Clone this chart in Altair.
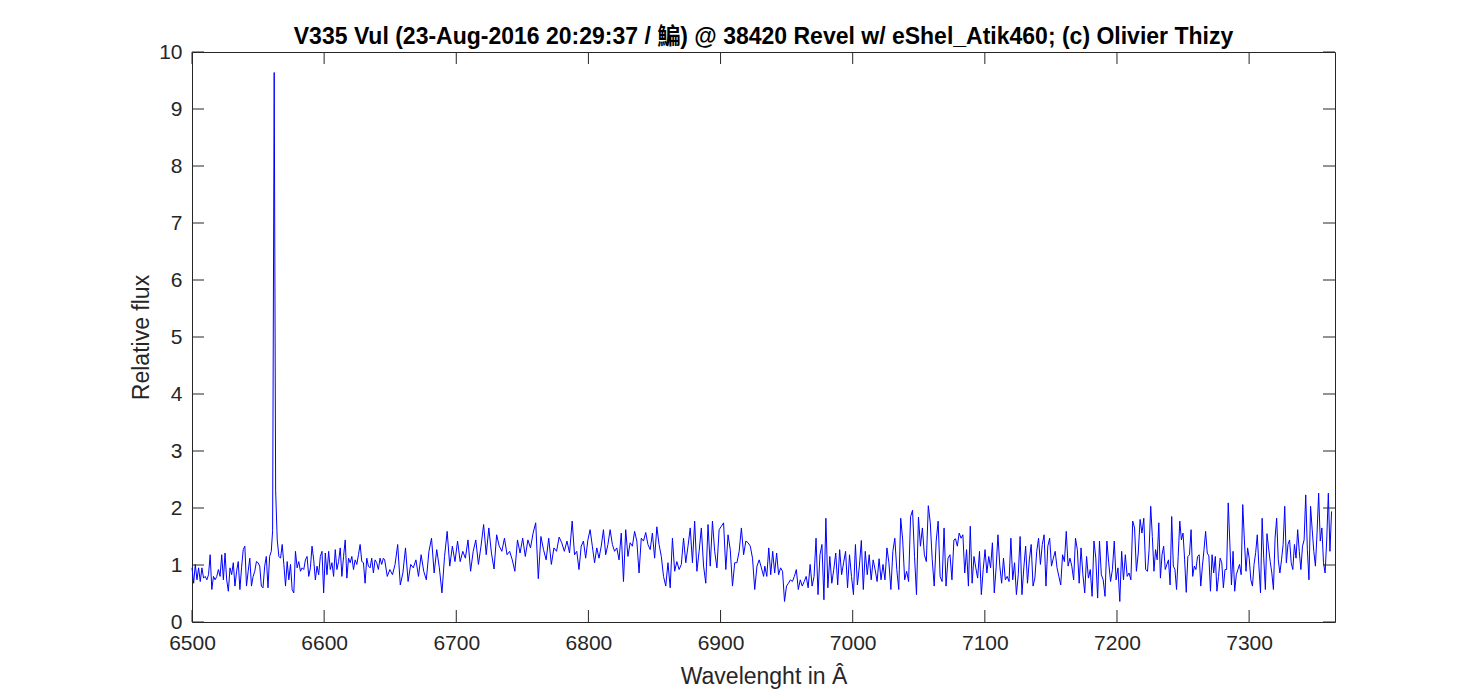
import numpy as np
import pandas as pd
import altair as alt

# spectrum, segment by segment (start, end wavelength in Angstrom)
seg1_range = (6500.0, 6560.0)
seg1_flux = [0.95, 0.68, 1.01, 0.74, 0.95, 0.71, 0.95, 0.77, 0.80, 0.74, 0.83, 1.18, 0.57, 0.80, 0.74, 0.80,
             0.92, 0.80, 1.18, 0.74, 1.21, 0.74, 0.54, 0.95, 0.83, 1.04, 0.63, 0.89, 1.06, 0.57, 0.95, 1.27,
             1.33, 0.63, 0.89, 1.12, 0.63, 0.80, 0.89, 1.06, 1.04, 0.98, 0.63, 0.60, 0.98, 1.15, 0.60, 1.15, 1.24]

# H-alpha emission line
peak_wl = [6561.0, 6562.2, 6563.3]
peak_flux = [1.6, 9.64, 2.3]

seg2_range = (6564.5, 6644.8)
seg2_flux = [1.44, 1.15, 1.12, 1.36, 1.01, 0.63, 1.06, 0.74, 1.01, 0.57, 0.51, 1.24, 0.95, 1.06, 0.89, 0.95,
             0.92, 1.09, 1.15, 0.80, 0.95, 1.33, 1.09, 0.74, 0.98, 0.83, 1.15, 1.24, 0.51, 1.21, 0.83, 1.24,
             0.92, 1.04, 0.80, 1.27, 0.92, 1.06, 1.30, 0.80, 1.15, 1.44, 0.77, 1.12, 1.04, 1.15, 0.92, 1.09,
             1.01, 1.18, 1.36, 1.06, 1.04, 0.68, 1.12, 0.98, 0.95, 1.12, 0.86, 1.09, 1.04, 0.92, 1.12, 1.01, 1.12]

seg3_range = (6645.8, 6787.7)
seg3_flux = [1.09, 0.80, 0.92, 0.83, 1.01, 1.36, 0.65, 0.86, 1.30, 0.71, 1.01, 0.95, 1.09, 0.80, 1.18, 0.89,
             0.74, 1.24, 1.47, 0.86, 1.27, 0.95, 0.51, 1.15, 1.59, 0.98, 1.33, 1.06, 1.42, 1.06, 1.24, 1.12,
             1.44, 0.89, 1.24, 1.44, 1.01, 1.33, 1.71, 1.18, 1.65, 1.21, 0.93, 1.53, 1.33, 1.24, 1.47, 1.18,
             1.24, 1.09, 0.89, 1.44, 1.21, 1.47, 1.15, 1.44, 1.30, 1.56, 1.74, 0.76, 1.50, 1.27, 1.09, 1.47,
             1.01, 1.30, 1.24, 1.49, 1.39, 1.24, 1.42, 1.21, 1.77]

seg4_range = (6789.5, 6932.6)
seg4_flux = [1.18, 1.24, 0.92, 1.33, 1.42, 1.12, 1.44, 1.62, 1.33, 1.04, 1.30, 1.12, 1.33, 1.62, 1.18, 1.36,
             1.62, 1.36, 1.24, 1.30, 1.09, 1.56, 0.71, 1.62, 1.15, 1.39, 1.33, 1.59, 1.42, 0.86, 1.47, 1.42,
             1.57, 1.36, 1.27, 1.56, 1.12, 1.67, 1.36, 1.15, 0.80, 0.63, 1.04, 0.60, 1.47, 0.89, 1.06, 0.92,
             1.01, 1.47, 1.04, 1.33, 1.65, 1.04, 1.77, 0.89, 1.24, 1.65, 0.98, 0.68, 1.71, 0.98, 1.77, 1.24,
             0.95, 1.62, 1.68, 1.74, 0.92, 1.53, 1.27, 0.63, 1.04, 1.04, 1.24, 1.65, 1.18, 1.42, 1.39, 1.33,
             1.12, 0.57, 0.98, 1.09, 0.95, 0.80]

seg5_range = (6933.5, 7076.6)
seg5_flux = [0.98, 0.80, 1.30, 0.83, 1.24, 0.86, 1.21, 0.83, 0.95, 0.89, 0.36, 0.63, 0.68, 0.74, 0.71, 0.80,
             0.92, 0.57, 0.74, 0.63, 0.71, 0.80, 0.60, 1.01, 0.63, 0.80, 1.47, 0.48, 1.18, 1.36, 0.39, 1.82,
             0.60, 1.15, 0.68, 0.92, 1.21, 0.65, 1.27, 0.83, 1.04, 1.24, 0.60, 1.18, 0.80, 0.48, 1.36, 0.65,
             0.98, 1.43, 0.57, 1.24, 0.83, 1.18, 0.74, 1.09, 0.92, 0.71, 1.11, 0.74, 1.01, 0.74, 1.30, 1.04,
             0.57, 1.24, 1.47, 0.92, 0.57, 1.82, 1.44, 0.74, 0.89, 0.71, 1.85, 1.96, 1.15, 0.48, 1.84, 1.33,
             1.65, 1.18, 1.06, 2.04, 1.74, 1.09, 0.63, 1.42, 1.77, 0.80, 0.71, 1.65, 0.63, 1.12, 1.18, 0.74, 1.44]

seg6_range = (7077.8, 7221.7)
seg6_flux = [1.46, 1.33, 1.56, 1.47, 1.53, 0.86, 1.27, 0.63, 1.68, 0.68, 1.15, 0.95, 0.77, 1.24, 0.48, 0.92,
             1.27, 0.86, 1.15, 0.95, 1.39, 0.51, 0.95, 1.53, 0.98, 0.68, 1.12, 0.74, 0.80, 0.71, 1.47, 0.74,
             1.04, 0.48, 0.83, 1.50, 0.48, 0.95, 1.33, 0.68, 1.09, 1.36, 0.63, 0.77, 1.24, 1.47, 1.01, 1.36,
             1.53, 0.63, 1.33, 1.47, 0.98, 1.12, 1.24, 0.95, 0.80, 0.65, 1.18, 1.06, 1.59, 0.98, 1.12, 0.98,
             0.74, 1.47, 1.27, 0.68, 1.30, 0.83, 0.51, 1.15, 0.77, 0.92, 0.45, 1.42, 1.12, 0.42, 1.42, 0.83,
             0.74, 0.45, 1.42, 1.04, 0.71, 0.92, 1.42, 0.74, 0.95, 0.36, 1.24, 0.74, 1.18, 0.80, 0.86, 0.74,
             1.77, 1.65, 0.89, 1.21, 1.80, 1.56, 1.82, 0.92]

seg7_range = (7223.1, 7362.4)
seg7_flux = [0.89, 1.27, 2.03, 1.50, 0.89, 1.27, 1.09, 1.74, 0.77, 1.18, 1.33, 0.92, 1.01, 1.09, 0.65, 1.85,
             0.98, 0.92, 0.57, 1.15, 1.77, 1.44, 1.56, 1.09, 0.52, 1.15, 1.18, 1.62, 0.80, 0.98, 0.92, 1.15,
             1.18, 0.63, 0.98, 1.27, 1.59, 1.21, 1.16, 0.54, 1.18, 0.86, 1.15, 0.54, 0.80, 1.12, 1.04, 0.60,
             0.92, 0.92, 2.09, 1.39, 0.65, 1.24, 0.54, 0.83, 0.92, 1.01, 0.83, 2.06, 1.44, 0.89, 1.30, 1.12,
             0.74, 0.63, 1.01, 1.22, 1.53, 0.98, 0.51, 1.82, 1.12, 0.57, 1.55, 1.30, 1.06, 0.86, 0.57, 1.47,
             1.82, 1.09, 0.86, 1.09, 1.36, 2.03, 1.04, 1.36, 1.44, 1.04, 0.92, 1.36, 1.12, 1.62, 1.24, 0.92,
             1.33, 1.44, 2.23, 1.27, 0.74, 2.03, 1.62, 1.24, 0.98, 1.56, 2.26, 1.42, 1.65, 1.04, 0.86, 1.44,
             2.26, 1.24, 1.94]

x_ticks = [6500, 6600, 6700, 6800, 6900, 7000, 7100, 7200, 7300]
y_ticks = [0, 1, 2, 3, 4, 5, 6, 7, 8, 9, 10]

title_text = "V335 Vul (23-Aug-2016 20:29:37 / 鯿) @ 38420 Revel w/ eShel_Atik460; (c) Olivier Thizy"

# assemble the spectrum table
segments = [
    (seg1_range, seg1_flux), (None, None),
    (seg2_range, seg2_flux), (seg3_range, seg3_flux), (seg4_range, seg4_flux),
    (seg5_range, seg5_flux), (seg6_range, seg6_flux), (seg7_range, seg7_flux),
]
wl, fx = [], []
for rng, flux in segments:
    if rng is None:
        wl += peak_wl
        fx += peak_flux
        continue
    wl += list(np.linspace(rng[0], rng[1], len(flux)))
    fx += flux
spec = pd.DataFrame({"wl": wl, "flux": fx})

W, H = 1143, 570
TICK = 12
FONT = "Liberation Sans, Arial, Helvetica, Noto Sans CJK TC, sans-serif"
INK = "#262626"

xscale = alt.Scale(domain=[6500, 7365], nice=False, zero=False)
yscale = alt.Scale(domain=[0, 10], nice=False)

line = alt.Chart(spec).mark_line(color="#0000FF", strokeWidth=1).encode(
    x=alt.X("wl:Q", scale=xscale,
            axis=alt.Axis(title="Wavelenght in Â", values=x_ticks, format="d", labelFlush=False,
                          titleY=54, titleBaseline="middle")),
    y=alt.Y("flux:Q", scale=yscale,
            axis=alt.Axis(title="Relative flux", values=y_ticks, format="d", labelFlush=False,
                          titleX=-51, titleY=H / 2, titleBaseline="middle", titleAlign="center")),
)

xt = pd.DataFrame({"v": x_ticks})
yt = pd.DataFrame({"v": y_ticks})

# MATLAB style inward ticks on all four sides
tick_bottom = alt.Chart(xt).mark_rule(color=INK, strokeWidth=1).encode(
    x=alt.X("v:Q", scale=xscale), y=alt.value(H), y2=alt.value(H - TICK))
tick_top = alt.Chart(xt).mark_rule(color=INK, strokeWidth=1).encode(
    x=alt.X("v:Q", scale=xscale), y=alt.value(0), y2=alt.value(TICK))
tick_left = alt.Chart(yt).mark_rule(color=INK, strokeWidth=1).encode(
    y=alt.Y("v:Q", scale=yscale), x=alt.value(0), x2=alt.value(TICK))
tick_right = alt.Chart(yt).mark_rule(color=INK, strokeWidth=1).encode(
    y=alt.Y("v:Q", scale=yscale), x=alt.value(W - TICK), x2=alt.value(W))

chart = alt.layer(line, tick_bottom, tick_top, tick_left, tick_right).properties(
    width=W, height=H,
    autosize=alt.AutoSizeParams(type="none"),
    padding={"left": 184, "top": 44, "right": 130, "bottom": 68},
    title=alt.TitleParams(title_text, font=FONT, fontSize=23, fontWeight="bold",
                          color="#000000", anchor="middle", offset=-8),
).configure_view(
    stroke=INK, strokeWidth=1
).configure_axis(
    domain=False, ticks=False, grid=False,
    labelFont=FONT, labelFontSize=21, labelColor=INK, labelPadding=10,
    titleFont=FONT, titleFontSize=23, titleColor=INK, titleFontWeight="normal",
)

chart.save("out.html", embed_options={"renderer": "svg", "actions": False})
